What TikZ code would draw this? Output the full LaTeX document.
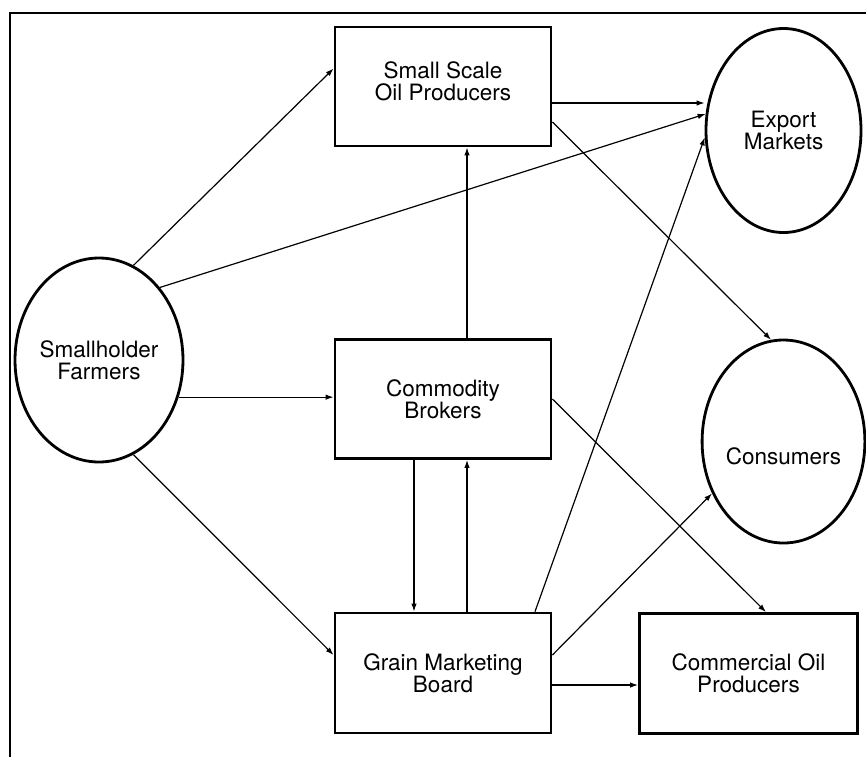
\documentclass[tikz,border=0pt]{standalone}
\usepackage{fontspec}
\setmainfont{TeX Gyre Heros}
\usetikzlibrary{shapes.geometric,arrows.meta}
\begin{document}
\begin{tikzpicture}[x=1pt,y=-1pt,
    box/.style={draw,line width=2.8pt,minimum width=216pt,minimum height=119pt,
      inner sep=0pt,align=center,font=\fontsize{22.5}{22}\selectfont},
    oval/.style={draw,ellipse,line width=2.8pt,minimum width=155pt,minimum height=204pt,
      inner sep=0pt,align=center,font=\fontsize{22.5}{22}\selectfont},
    flow/.style={line width=1.2pt,-{Latex[length=8pt,width=5.5pt]}}]
  \useasboundingbox (0,0) rectangle (866,756);
  % frame, cut off at right and bottom
  \draw[line width=2.8pt] (10,760) -- (10,13) -- (870,13);
  % nodes
  \node[oval,minimum width=152pt] (farmers) at (99,360) {Smallholder\\Farmers};
  \node[box,text depth=11pt] (smallscale) at (443,86.5) {Small Scale\\Oil Producers};
  \node[box] (brokers) at (443,399) {Commodity\\Brokers};
  \node[box,minimum height=120pt] (grain) at (443,673) {Grain Marketing\\Board};
  \node[oval] (export) at (783.5,130.5) {Export\\Markets};
  \node[oval,minimum height=203pt,text height=46pt] (consumers) at (783.5,441.5) {Consumers};
  \node[box,minimum width=218pt,minimum height=120pt] (commercial) at (748.5,673.5) {Commercial Oil\\Producers};
  % flows
  \draw[flow] (farmers.70) -- ([yshift=18pt]smallscale.west);
  \draw[flow] (farmers.50) -- (export.168);
  \draw[flow] (farmers.-25) -- (farmers.-25 -| brokers.west);
  \draw[flow] (farmers.-70) -- ([yshift=18pt]grain.west);
  \draw[flow] ([yshift=-16.5pt]smallscale.east) -- ([yshift=-16.5pt]smallscale.east -| export.west);
  \draw[flow] ([yshift=-35.5pt]smallscale.east) -- (consumers.97);
  \draw[flow] ([xshift=24pt]brokers.north) -- ([xshift=24pt]smallscale.south);
  \draw[flow] ([xshift=-29pt]brokers.south) -- ([xshift=-29pt]grain.north);
  \draw[flow] ([xshift=24pt]grain.north) -- ([xshift=24pt]brokers.south);
  \draw[flow] (brokers.east) -- ([xshift=17.5pt]commercial.north);
  \draw[flow] ([xshift=92pt]grain.north) -- (export.185);
  \draw[flow] ([yshift=18pt]grain.east) -- (consumers.216);
  \draw[flow] ([yshift=-12pt]grain.east) -- ([yshift=-12pt]grain.east -| commercial.west);
\end{tikzpicture}
\end{document}
